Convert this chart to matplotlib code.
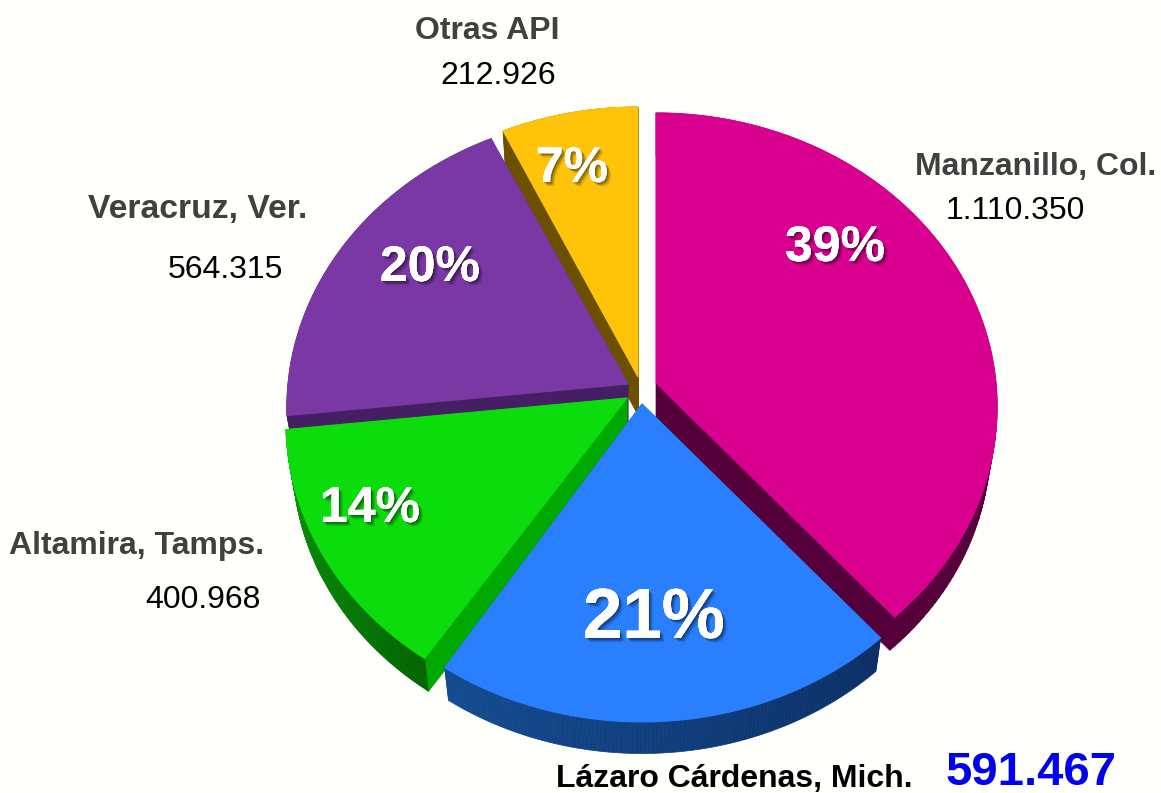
import numpy as np
import matplotlib
matplotlib.use('Agg')
import matplotlib.pyplot as plt
from matplotlib.collections import PolyCollection
from matplotlib.patches import Polygon
import matplotlib.colors as mcolors
import matplotlib.patheffects as pe

plt.rcParams['font.family'] = ['Liberation Sans', 'DejaVu Sans']

# clockwise from 12 o'clock
ports = ['Manzanillo, Col.', 'Lázaro Cárdenas, Mich.', 'Altamira, Tamps.', 'Veracruz, Ver.', 'Otras API']
values = [1110350, 591467, 400968, 564315, 212926]
value_labels = ['1.110.350', '591.467', '400.968', '564.315', '212.926']
pct_labels = ['39%', '21%', '14%', '20%', '7%']

# look of each slice
top_colors = ['#D90090', '#2A7FFF', '#0CDC0C', '#7A38A5', '#FFC409']
rim_colors = [('#55003A', '#55003A'), ('#144C90', '#0B2F66'), ('#0A9A0A', '#006400'),
              ('#451F63', '#451F63'), ('#6B5000', '#6B5000')]
side_colors = ['#55003A', '#0B2F66', '#00A800', '#451F63', '#6B5000']
apex = [(656, 383), (642, 404), (627, 398), (628, 384), (638, 377)]
draw_order = [4, 3, 0, 2, 1]
# small corrections of each slice's start and end, degrees
trim_start = [0, 0, 1, 1, 1.4]
trim_end = [0, 0, 1, 1, 0]

# pixels, perspective of the tilted disc
R, RY, K = 340, 292, 0.0814
DROP, SHRINK = 38, 0.98
BG = '#FFFFFB'


def project(theta, center, scale=1.0, drop=0.0):
    w = 1 + K * np.cos(theta)
    x = center[0] + scale * R * np.sin(theta) / w
    y = center[1] - scale * RY * np.cos(theta) / w + drop
    return np.column_stack([x, y])


fig = plt.figure(figsize=(11.61, 7.93), dpi=100, facecolor=BG)
ax = fig.add_axes([0, 0, 1, 1])
ax.set_xlim(0, 1161)
ax.set_ylim(793, 0)
ax.axis('off')

edges = np.concatenate([[0], np.cumsum(values)]) / np.sum(values) * 2 * np.pi

for i in draw_order:
    c = apex[i]
    theta = np.linspace(edges[i] + np.radians(trim_start[i]), edges[i + 1] + np.radians(trim_end[i]), 120)
    top = project(theta, c)
    low = project(theta, c, SHRINK, DROP)
    low_c = (c[0], c[1] + DROP)

    # radial walls
    for t, b in ((top[0], low[0]), (top[-1], low[-1])):
        ax.add_patch(Polygon([c, t, b, low_c], fc=side_colors[i], ec=side_colors[i], lw=0.5))

    # rim, shaded along the arc
    c0, c1 = [np.array(mcolors.to_rgb(k)) for k in rim_colors[i]]
    quads = [[top[j], top[j + 1], low[j + 1], low[j]] for j in range(len(theta) - 1)]
    shades = [c1 + (c0 - c1) * j / (len(quads) - 1) for j in range(len(quads))]
    ax.add_collection(PolyCollection(quads, facecolors=shades, edgecolors='face', linewidths=0.5))

    ax.add_patch(Polygon(np.vstack([[c], top]), fc=top_colors[i], ec=top_colors[i], lw=0.8))

name_pos = [(1036, 175), (734, 787), (137, 554), (198, 218), (487, 39)]
name_size = [23, 23, 23, 24.3, 23]
value_pos = [(1015, 219), (1031, 785), (203, 608), (225, 278), (498, 84)]
pct_pos = [(835, 261), (654, 638), (370, 522), (430, 281), (572, 182)]
pct_size = [36, 51, 36, 36, 36]

# soft drop shadow under the white percentages
shadow = [pe.withSimplePatchShadow(offset=(3, -3), shadow_rgbFace='#000000', alpha=0.12),
          pe.withSimplePatchShadow(offset=(2, -2), shadow_rgbFace='#000000', alpha=0.22),
          pe.withSimplePatchShadow(offset=(1, -1), shadow_rgbFace='#000000', alpha=0.25),
          pe.Normal()]

for i, name in enumerate(ports):
    big = i == 1
    ax.text(*name_pos[i], name, ha='center', va='baseline', fontsize=name_size[i], fontweight='bold',
            color='#000000' if big else '#404040')
    ax.text(*value_pos[i], value_labels[i], ha='center', va='baseline',
            fontsize=34 if big else 23, fontweight='bold' if big else 'normal',
            color='#0000F0' if big else '#000000')
    ax.text(*pct_pos[i], pct_labels[i], ha='center', va='baseline', fontsize=pct_size[i],
            fontweight='bold', color='white', path_effects=shadow)

fig.savefig('out.png', dpi=100, facecolor=BG)
